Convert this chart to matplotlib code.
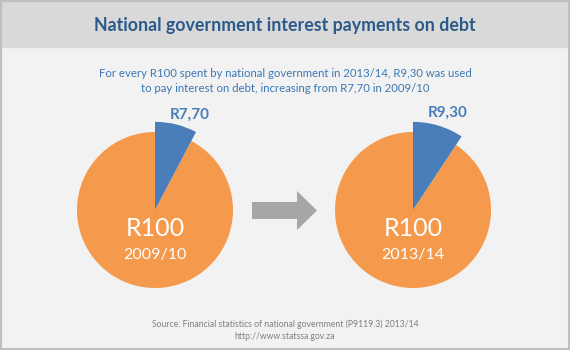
import matplotlib.pyplot as plt
import matplotlib.patches as mpatches

# data
years = ['2009/10', '2013/14']
interest = [7.70, 9.30]          # rand per R100 spent
interest_labels = ['R7,70', 'R9,30']
total_label = 'R100'

title = 'National government interest payments on debt'
subtitle = ('For every R100 spent by national government in 2013/14, R9,30 was used\n'
            'to pay interest on debt, increasing from R7,70 in 2009/10')
source = ('Source: Financial statistics of national government (P9119.3) 2013/14\n'
          'http://www.statssa.gov.za')

orange = '#f59a4c'
blue = '#4a7ebb'
plt.rcParams['font.family'] = ['Lato', 'DejaVu Sans']

fig = plt.figure(figsize=(5.7, 3.5), dpi=100)
fig.patch.set_facecolor('#f2f2f2')
ax = fig.add_axes([0, 0, 1, 1])
ax.set_facecolor('#f2f2f2')

# header band + border
ax.add_patch(mpatches.Rectangle((0, 303), 570, 47, color='#d9d9d9', zorder=0))
ax.add_patch(mpatches.Rectangle((1, 1), 568, 348, fill=False, ec='#bfbfbf', lw=1.5, zorder=5))

ax.text(285, 325, title, ha='center', va='center', fontsize=12.8,
        fontweight='bold', color='#2b5a8a')
ax.text(285, 269, subtitle, ha='center', va='center', fontsize=8.2,
        color='#3b78b5', linespacing=1.4)

centers = [(155, 140), (413, 140)]
r = 78
for i, (cx, cy) in enumerate(centers):
    wedges, _ = ax.pie([interest[i], 100 - interest[i]], colors=[blue, orange],
                       startangle=90, counterclock=False, radius=r,
                       center=(cx, cy), frame=True)
    wedges[0].set_radius(r * 1.13)
    wedges[0].set_zorder(3)
    ax.text(cx + 35, cy + 95 + 2 * i, interest_labels[i], ha='center', va='center',
            fontsize=11, fontweight='bold', color=blue)
    ax.text(cx, cy - 19, total_label, ha='center', va='center', fontsize=18,
            color='white')
    ax.text(cx, cy - 45, years[i], ha='center', va='center', fontsize=11.5,
            color='white')

ax.add_patch(mpatches.FancyArrow(252, 139.5, 65, 0, width=17, head_width=39,
                                 head_length=20, length_includes_head=True,
                                 color='#a6a6a6', lw=0))

ax.text(285, 20, source, ha='center', va='center', fontsize=6.2,
        color='#7f7f7f', linespacing=1.45)

ax.set_xlim(0, 570)
ax.set_ylim(0, 350)
ax.set_aspect('auto')
ax.axis('off')

fig.savefig('out.png', dpi=100, facecolor=fig.get_facecolor())
